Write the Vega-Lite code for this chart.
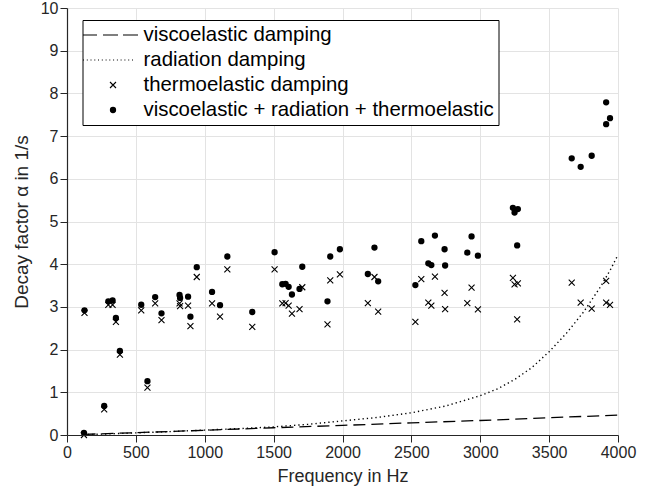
{
  "$schema": "https://vega.github.io/schema/vega-lite/v6.json",
  "width": 551,
  "height": 427,
  "autosize": {"type": "none"},
  "padding": {"left": 67, "top": 8, "right": 40, "bottom": 58},
  "background": "white",
  "config": {
    "view": {"stroke": null},
    "font": "Liberation Sans",
    "axis": {
      "gridColor": "#e3e3e3",
      "gridWidth": 1,
      "domainColor": "#262626",
      "domainWidth": 1.2,
      "tickColor": "#262626",
      "tickSize": 7,
      "tickWidth": 1,
      "labelFont": "Liberation Sans",
      "labelFontSize": 16,
      "labelColor": "#262626",
      "labelFlush": false,
      "labelOverlap": false,
      "titleFont": "Liberation Sans",
      "titleFontWeight": "normal",
      "titleColor": "#262626"
    },
    "legend": {
      "orient": "none",
      "legendX": 15.5,
      "legendY": 12,
      "zindex": 2,
      "labelFont": "Liberation Sans",
      "labelFontSize": 20.4,
      "labelColor": "black",
      "labelLimit": 500,
      "symbolSize": 400,
      "symbolStrokeWidth": 1.1,
      "symbolStrokeColor": "black",
      "symbolOpacity": 1,
      "strokeColor": "black",
      "fillColor": "white",
      "padding": 4,
      "rowPadding": 3,
      "labelOffset": 19.5,
      "symbolOffset": 15.5
    }
  },
  "resolve": {"axis": {"x": "independent", "y": "independent"}},
  "datasets": {
    "curves": [
      {"type": "viscoelastic damping", "f": 120, "alpha": 0.014},
      {"type": "viscoelastic damping", "f": 500, "alpha": 0.055},
      {"type": "viscoelastic damping", "f": 1000, "alpha": 0.11},
      {"type": "viscoelastic damping", "f": 1500, "alpha": 0.17},
      {"type": "viscoelastic damping", "f": 2000, "alpha": 0.225},
      {"type": "viscoelastic damping", "f": 2500, "alpha": 0.285},
      {"type": "viscoelastic damping", "f": 3000, "alpha": 0.34},
      {"type": "viscoelastic damping", "f": 3500, "alpha": 0.405},
      {"type": "viscoelastic damping", "f": 4000, "alpha": 0.465},
      {"type": "radiation damping", "f": 120, "alpha": 0.01},
      {"type": "radiation damping", "f": 250, "alpha": 0.02},
      {"type": "radiation damping", "f": 500, "alpha": 0.05},
      {"type": "radiation damping", "f": 750, "alpha": 0.08},
      {"type": "radiation damping", "f": 1000, "alpha": 0.115},
      {"type": "radiation damping", "f": 1250, "alpha": 0.15},
      {"type": "radiation damping", "f": 1500, "alpha": 0.19},
      {"type": "radiation damping", "f": 1750, "alpha": 0.25},
      {"type": "radiation damping", "f": 2000, "alpha": 0.33},
      {"type": "radiation damping", "f": 2250, "alpha": 0.41},
      {"type": "radiation damping", "f": 2500, "alpha": 0.52},
      {"type": "radiation damping", "f": 2750, "alpha": 0.68},
      {"type": "radiation damping", "f": 3000, "alpha": 0.92},
      {"type": "radiation damping", "f": 3125, "alpha": 1.08},
      {"type": "radiation damping", "f": 3250, "alpha": 1.3},
      {"type": "radiation damping", "f": 3375, "alpha": 1.58},
      {"type": "radiation damping", "f": 3500, "alpha": 1.95},
      {"type": "radiation damping", "f": 3625, "alpha": 2.38},
      {"type": "radiation damping", "f": 3750, "alpha": 2.88},
      {"type": "radiation damping", "f": 3875, "alpha": 3.48},
      {"type": "radiation damping", "f": 3950, "alpha": 3.9},
      {"type": "radiation damping", "f": 4000, "alpha": 4.22}
    ],
    "points": [
      {"type": "thermoelastic damping", "f": 123, "alpha": 0.0},
      {"type": "thermoelastic damping", "f": 127, "alpha": 2.86},
      {"type": "thermoelastic damping", "f": 270, "alpha": 0.6},
      {"type": "thermoelastic damping", "f": 300, "alpha": 3.05},
      {"type": "thermoelastic damping", "f": 331, "alpha": 3.05},
      {"type": "thermoelastic damping", "f": 355, "alpha": 2.65},
      {"type": "thermoelastic damping", "f": 384, "alpha": 1.88},
      {"type": "thermoelastic damping", "f": 539, "alpha": 2.92},
      {"type": "thermoelastic damping", "f": 584, "alpha": 1.11},
      {"type": "thermoelastic damping", "f": 640, "alpha": 3.08},
      {"type": "thermoelastic damping", "f": 686, "alpha": 2.69},
      {"type": "thermoelastic damping", "f": 817, "alpha": 3.08},
      {"type": "thermoelastic damping", "f": 821, "alpha": 3.02},
      {"type": "thermoelastic damping", "f": 879, "alpha": 3.03},
      {"type": "thermoelastic damping", "f": 896, "alpha": 2.55},
      {"type": "thermoelastic damping", "f": 942, "alpha": 3.7},
      {"type": "thermoelastic damping", "f": 1053, "alpha": 3.08},
      {"type": "thermoelastic damping", "f": 1111, "alpha": 2.77},
      {"type": "thermoelastic damping", "f": 1164, "alpha": 3.88},
      {"type": "thermoelastic damping", "f": 1345, "alpha": 2.53},
      {"type": "thermoelastic damping", "f": 1507, "alpha": 3.88},
      {"type": "thermoelastic damping", "f": 1563, "alpha": 3.08},
      {"type": "thermoelastic damping", "f": 1587, "alpha": 3.09},
      {"type": "thermoelastic damping", "f": 1609, "alpha": 3.03},
      {"type": "thermoelastic damping", "f": 1633, "alpha": 2.84},
      {"type": "thermoelastic damping", "f": 1688, "alpha": 2.95},
      {"type": "thermoelastic damping", "f": 1708, "alpha": 3.46},
      {"type": "thermoelastic damping", "f": 1891, "alpha": 2.59},
      {"type": "thermoelastic damping", "f": 1911, "alpha": 3.62},
      {"type": "thermoelastic damping", "f": 1981, "alpha": 3.76},
      {"type": "thermoelastic damping", "f": 2184, "alpha": 3.09},
      {"type": "thermoelastic damping", "f": 2232, "alpha": 3.7},
      {"type": "thermoelastic damping", "f": 2259, "alpha": 2.89},
      {"type": "thermoelastic damping", "f": 2529, "alpha": 2.65},
      {"type": "thermoelastic damping", "f": 2572, "alpha": 3.65},
      {"type": "thermoelastic damping", "f": 2623, "alpha": 3.1},
      {"type": "thermoelastic damping", "f": 2645, "alpha": 3.03},
      {"type": "thermoelastic damping", "f": 2671, "alpha": 3.71},
      {"type": "thermoelastic damping", "f": 2741, "alpha": 3.33},
      {"type": "thermoelastic damping", "f": 2745, "alpha": 2.95},
      {"type": "thermoelastic damping", "f": 2906, "alpha": 3.09},
      {"type": "thermoelastic damping", "f": 2937, "alpha": 3.45},
      {"type": "thermoelastic damping", "f": 2983, "alpha": 2.94},
      {"type": "thermoelastic damping", "f": 3237, "alpha": 3.68},
      {"type": "thermoelastic damping", "f": 3249, "alpha": 3.53},
      {"type": "thermoelastic damping", "f": 3273, "alpha": 3.55},
      {"type": "thermoelastic damping", "f": 3268, "alpha": 2.71},
      {"type": "thermoelastic damping", "f": 3664, "alpha": 3.57},
      {"type": "thermoelastic damping", "f": 3729, "alpha": 3.1},
      {"type": "thermoelastic damping", "f": 3809, "alpha": 2.96},
      {"type": "thermoelastic damping", "f": 3914, "alpha": 3.61},
      {"type": "thermoelastic damping", "f": 3914, "alpha": 3.1},
      {"type": "thermoelastic damping", "f": 3942, "alpha": 3.05},
      {"type": "viscoelastic + radiation + thermoelastic", "f": 123, "alpha": 0.05},
      {"type": "viscoelastic + radiation + thermoelastic", "f": 127, "alpha": 2.92},
      {"type": "viscoelastic + radiation + thermoelastic", "f": 270, "alpha": 0.68},
      {"type": "viscoelastic + radiation + thermoelastic", "f": 300, "alpha": 3.13},
      {"type": "viscoelastic + radiation + thermoelastic", "f": 331, "alpha": 3.15},
      {"type": "viscoelastic + radiation + thermoelastic", "f": 355, "alpha": 2.74},
      {"type": "viscoelastic + radiation + thermoelastic", "f": 384, "alpha": 1.97},
      {"type": "viscoelastic + radiation + thermoelastic", "f": 539, "alpha": 3.05},
      {"type": "viscoelastic + radiation + thermoelastic", "f": 584, "alpha": 1.26},
      {"type": "viscoelastic + radiation + thermoelastic", "f": 640, "alpha": 3.23},
      {"type": "viscoelastic + radiation + thermoelastic", "f": 686, "alpha": 2.85},
      {"type": "viscoelastic + radiation + thermoelastic", "f": 817, "alpha": 3.28},
      {"type": "viscoelastic + radiation + thermoelastic", "f": 821, "alpha": 3.21},
      {"type": "viscoelastic + radiation + thermoelastic", "f": 879, "alpha": 3.24},
      {"type": "viscoelastic + radiation + thermoelastic", "f": 896, "alpha": 2.77},
      {"type": "viscoelastic + radiation + thermoelastic", "f": 942, "alpha": 3.93},
      {"type": "viscoelastic + radiation + thermoelastic", "f": 1053, "alpha": 3.35},
      {"type": "viscoelastic + radiation + thermoelastic", "f": 1111, "alpha": 3.04},
      {"type": "viscoelastic + radiation + thermoelastic", "f": 1164, "alpha": 4.18},
      {"type": "viscoelastic + radiation + thermoelastic", "f": 1345, "alpha": 2.88},
      {"type": "viscoelastic + radiation + thermoelastic", "f": 1507, "alpha": 4.28},
      {"type": "viscoelastic + radiation + thermoelastic", "f": 1563, "alpha": 3.53},
      {"type": "viscoelastic + radiation + thermoelastic", "f": 1587, "alpha": 3.54},
      {"type": "viscoelastic + radiation + thermoelastic", "f": 1609, "alpha": 3.47},
      {"type": "viscoelastic + radiation + thermoelastic", "f": 1633, "alpha": 3.29},
      {"type": "viscoelastic + radiation + thermoelastic", "f": 1688, "alpha": 3.42},
      {"type": "viscoelastic + radiation + thermoelastic", "f": 1708, "alpha": 3.94},
      {"type": "viscoelastic + radiation + thermoelastic", "f": 1891, "alpha": 3.13},
      {"type": "viscoelastic + radiation + thermoelastic", "f": 1911, "alpha": 4.18},
      {"type": "viscoelastic + radiation + thermoelastic", "f": 1981, "alpha": 4.35},
      {"type": "viscoelastic + radiation + thermoelastic", "f": 2184, "alpha": 3.77},
      {"type": "viscoelastic + radiation + thermoelastic", "f": 2232, "alpha": 4.39},
      {"type": "viscoelastic + radiation + thermoelastic", "f": 2259, "alpha": 3.6},
      {"type": "viscoelastic + radiation + thermoelastic", "f": 2529, "alpha": 3.51},
      {"type": "viscoelastic + radiation + thermoelastic", "f": 2572, "alpha": 4.54},
      {"type": "viscoelastic + radiation + thermoelastic", "f": 2623, "alpha": 4.02},
      {"type": "viscoelastic + radiation + thermoelastic", "f": 2645, "alpha": 3.98},
      {"type": "viscoelastic + radiation + thermoelastic", "f": 2671, "alpha": 4.67},
      {"type": "viscoelastic + radiation + thermoelastic", "f": 2741, "alpha": 4.35},
      {"type": "viscoelastic + radiation + thermoelastic", "f": 2745, "alpha": 3.97},
      {"type": "viscoelastic + radiation + thermoelastic", "f": 2906, "alpha": 4.27},
      {"type": "viscoelastic + radiation + thermoelastic", "f": 2937, "alpha": 4.65},
      {"type": "viscoelastic + radiation + thermoelastic", "f": 2983, "alpha": 4.2},
      {"type": "viscoelastic + radiation + thermoelastic", "f": 3237, "alpha": 5.32},
      {"type": "viscoelastic + radiation + thermoelastic", "f": 3249, "alpha": 5.21},
      {"type": "viscoelastic + radiation + thermoelastic", "f": 3273, "alpha": 5.29},
      {"type": "viscoelastic + radiation + thermoelastic", "f": 3268, "alpha": 4.44},
      {"type": "viscoelastic + radiation + thermoelastic", "f": 3664, "alpha": 6.48},
      {"type": "viscoelastic + radiation + thermoelastic", "f": 3729, "alpha": 6.28},
      {"type": "viscoelastic + radiation + thermoelastic", "f": 3809, "alpha": 6.54},
      {"type": "viscoelastic + radiation + thermoelastic", "f": 3914, "alpha": 7.79},
      {"type": "viscoelastic + radiation + thermoelastic", "f": 3914, "alpha": 7.28},
      {"type": "viscoelastic + radiation + thermoelastic", "f": 3942, "alpha": 7.42}
    ]
  },
  "layer": [
    {
      "data": {"name": "curves"},
      "transform": [{"filter": "datum.type === 'viscoelastic damping'"}],
      "mark": {"type": "line", "color": "black", "strokeWidth": 1.3, "strokeDash": [12, 6]},
      "encoding": {
        "x": {"field": "f", "type": "quantitative", "scale": {"domain": [0, 4000], "nice": false},
          "axis": {"orient": "bottom", "values": [0, 500, 1000, 1500, 2000, 2500, 3000, 3500, 4000], "grid": true, "domain": false, "ticks": false, "labels": false, "title": null, "zindex": 0}},
        "y": {"field": "alpha", "type": "quantitative", "scale": {"domain": [0, 10], "nice": false},
          "axis": {"orient": "left", "values": [0, 1, 2, 3, 4, 5, 6, 7, 8, 9, 10], "grid": true, "domain": false, "ticks": false, "labels": false, "title": null, "zindex": 0}}
      }
    },
    {
      "data": {"name": "curves"},
      "transform": [{"filter": "datum.type === 'radiation damping'"}],
      "mark": {"type": "line", "color": "black", "strokeWidth": 1.4, "strokeDash": [1.3, 3]},
      "encoding": {
        "x": {"field": "f", "type": "quantitative", "axis": null},
        "y": {"field": "alpha", "type": "quantitative", "axis": null}
      }
    },
    {
      "data": {"name": "points"},
      "mark": {"type": "point", "filled": false, "color": "black", "strokeWidth": 1.1, "size": 400, "opacity": 1},
      "encoding": {
        "x": {"field": "f", "type": "quantitative",
          "axis": {"orient": "bottom", "grid": false, "values": [0, 500, 1000, 1500, 2000, 2500, 3000, 3500, 4000], "format": "d", "title": "Frequency in Hz", "titleFontSize": 18, "labelPadding": 2, "titlePadding": 7, "zindex": 1,
            "encode": {"ticks": {"update": {"y2": {"value": -7}}}}}},
        "y": {"field": "alpha", "type": "quantitative",
          "axis": {"orient": "left", "grid": false, "values": [0, 1, 2, 3, 4, 5, 6, 7, 8, 9, 10], "format": "d", "title": "Decay factor α in 1/s", "titleFontSize": 19, "labelPadding": 2, "titlePadding": 9, "zindex": 1,
            "encode": {"ticks": {"update": {"x2": {"value": 7}}}}}},
        "shape": {
          "field": "type",
          "type": "nominal",
          "scale": {
            "domain": ["viscoelastic damping", "radiation damping", "thermoelastic damping", "viscoelastic + radiation + thermoelastic"],
            "range": [
              "M-3,0H-1.6M-1,0H0.5M1,0H2.5",
              "M-3,0h0.1M-2.62,0h0.1M-2.25,0h0.1M-1.87,0h0.1M-1.5,0h0.1M-1.12,0h0.1M-0.74,0h0.1M-0.37,0h0.1M0.01,0h0.1M0.39,0h0.1M0.76,0h0.1M1.14,0h0.1M1.52,0h0.1M1.9,0h0.1",
              "M-0.3,-0.3L0.3,0.3M-0.3,0.3L0.3,-0.3",
              "M-0.26,0A0.26,0.26,0,1,0,0.26,0A0.26,0.26,0,1,0,-0.26,0ZM-0.16,0A0.16,0.16,0,1,0,0.16,0A0.16,0.16,0,1,0,-0.16,0ZM-0.06,0A0.06,0.06,0,1,0,0.06,0A0.06,0.06,0,1,0,-0.06,0Z"
            ]
          },
          "legend": {"title": null}
        }
      }
    }
  ]
}
